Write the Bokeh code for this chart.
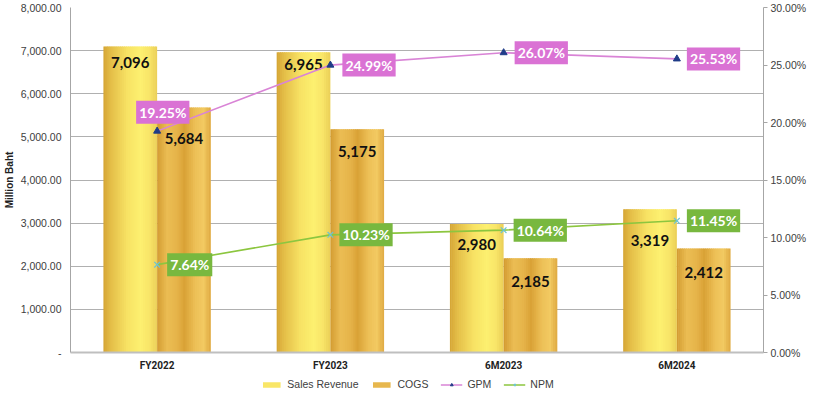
from bokeh.plotting import figure
from bokeh.layouts import column
from bokeh.models import (FactorRange, Range1d, LinearAxis, FixedTicker, NumeralTickFormatter,
                          PrintfTickFormatter, ColumnDataSource, Legend, LegendItem)
from bokeh.transform import dodge
from bokeh.core.properties import value
from bokeh.embed import file_html
from bokeh.resources import INLINE

# ---------------- data ----------------
periods = ["FY2022", "FY2023", "6M2023", "6M2024"]
sales_revenue = [7096, 6965, 2980, 3319]
cogs = [5684, 5175, 2185, 2412]
gpm = [19.25, 24.99, 26.07, 25.53]
npm = [7.64, 10.23, 10.64, 11.45]
left_ticks = [0, 1000, 2000, 3000, 4000, 5000, 6000, 7000, 8000]
right_ticks = [0, 5, 10, 15, 20, 25, 30]
series_names = ["Sales Revenue", "COGS", "GPM", "NPM"]

# ---------------- label layout (screen px) ----------------
sales_label_dy = [16, 12, 21, 31]
cogs_label_dy = [31, 22, 23, 24]
gpm_label_dx = [-21, 12, 11, 10]
gpm_label_dy = [-19, 0, 0, 0]
npm_label_dx = [10, 9, 10, 10]

# ---------------- styles ----------------
sales_stops = [(0.0, "#D4A434"), (0.15, "#E4BE48"), (0.45, "#F7E264"),
               (0.7, "#FDF070"), (0.88, "#F8E468"), (1.0, "#EACE56")]
cogs_stops = [(0.0, "#D29A30"), (0.2, "#EBBD54"), (0.38, "#E6B44A"), (0.52, "#D9A236"),
              (0.72, "#EDC057"), (0.88, "#F2CA62"), (1.0, "#DEA840")]
GPM_COLOR, GPM_MARK = "#D984D6", "#1F3C88"
NPM_COLOR, NPM_MARK = "#8CC63F", "#6CC4D4"
N_STRIPS = 28
bar_w = 0.31
sales_off = -0.155
cogs_off = 0.155
NAN = float("nan")


def grad(stops, n):
    def hx(c):
        return [int(c[i:i + 2], 16) for i in (1, 3, 5)]
    out = []
    for k in range(n):
        t = (k + 0.5) / n
        for (p0, c0), (p1, c1) in zip(stops[:-1], stops[1:]):
            if p0 <= t <= p1:
                f = (t - p0) / (p1 - p0)
                a, b = hx(c0), hx(c1)
                out.append("#%02X%02X%02X" % tuple(round(a[i] + (b[i] - a[i]) * f) for i in range(3)))
                break
    return out


p = figure(frame_width=693, frame_height=345, output_backend="svg", toolbar_location=None,
           x_range=FactorRange(*periods, range_padding=0), y_range=Range1d(0, 8000),
           min_border_top=7, min_border_bottom=0, min_border_left=0, min_border_right=0)
p.extra_y_ranges = {"pct": Range1d(0, 30)}
p.outline_line_color = None
p.background_fill_color = "white"
p.border_fill_color = "white"

src = ColumnDataSource(dict(period=periods, sales=sales_revenue, cogs=cogs, gpm=gpm, npm=npm,
                            sales_lbl=[f"{v:,}" for v in sales_revenue],
                            cogs_lbl=[f"{v:,}" for v in cogs],
                            gpm_lbl=[f"{v:.2f}%" for v in gpm],
                            npm_lbl=[f"{v:.2f}%" for v in npm],
                            sales_dy=sales_label_dy, cogs_dy=cogs_label_dy,
                            gpm_dx=gpm_label_dx, gpm_dy=gpm_label_dy, npm_dx=npm_label_dx))


def strips(field, stops, center_off):
    colors = grad(stops, N_STRIPS)
    w = bar_w / N_STRIPS
    for k, c in enumerate(colors):
        off = center_off - bar_w / 2 + (k + 0.5) * w
        p.vbar(x=dodge("period", off, range=p.x_range), top=field, bottom=0,
               width=w * 1.6 if 0 < k < N_STRIPS - 1 else w, source=src,
               fill_color=c, line_color=None)
    return colors


sales_cols = strips("sales", sales_stops, sales_off)
cogs_cols = strips("cogs", cogs_stops, cogs_off)

# bar value labels
for fld, off, lbl, dy in (("sales", sales_off, "sales_lbl", "sales_dy"),
                          ("cogs", cogs_off, "cogs_lbl", "cogs_dy")):
    p.text(x=dodge("period", off, range=p.x_range), y=fld, text=lbl, source=src,
           y_offset=dy, text_align="center", text_baseline="middle",
           text_font=value("Lato"), text_font_style="bold", text_font_size="15px",
           text_color="#111111")

# lines
p.line(x="period", y="gpm", source=src, y_range_name="pct", line_color=GPM_COLOR, line_width=1.6)
p.scatter(x="period", y="gpm", source=src, y_range_name="pct", marker="triangle",
          size=7, fill_color=GPM_MARK, line_color=GPM_MARK)
p.line(x="period", y="npm", source=src, y_range_name="pct", line_color=NPM_COLOR, line_width=1.6)
p.scatter(x="period", y="npm", source=src, y_range_name="pct", marker="x",
          size=8, line_color=NPM_MARK, line_width=1.2)

p.text(x="period", y="gpm", text="gpm_lbl", source=src, y_range_name="pct",
       x_offset="gpm_dx", y_offset="gpm_dy", text_align="left", text_baseline="middle",
       text_font=value("Lato"), text_font_style="bold", text_font_size="14px", text_color="white",
       background_fill_color="#DA72D4", padding=3)
p.text(x="period", y="npm", text="npm_lbl", source=src, y_range_name="pct",
       x_offset="npm_dx", text_align="left", text_baseline="middle",
       text_font=value("Lato"), text_font_style="bold", text_font_size="14px", text_color="white",
       background_fill_color="#78B83F", padding=3)

# axes
ya = p.yaxis[0]
ya.ticker = FixedTicker(ticks=left_ticks)
ya.formatter = NumeralTickFormatter(format="0,0.00")
ya.major_label_overrides = {0: "-"}
ya.axis_label = "Million Baht"
ya.axis_label_text_font = "Liberation Sans"
ya.axis_label_text_font_style = "bold"
ya.axis_label_text_font_size = "10px"
ya.axis_label_text_color = "#222222"
ya.axis_label_standoff = 3
ya.major_label_text_font = "Liberation Sans"
ya.major_label_text_font_size = "10.5px"
ya.major_label_text_color = "#404040"
ya.major_label_standoff = 9
ya.major_tick_out = 0
ya.major_tick_in = 0
ya.minor_tick_out = 0
ya.minor_tick_in = 0
ya.axis_line_color = "#A6A6A6"

ra = LinearAxis(y_range_name="pct", ticker=FixedTicker(ticks=right_ticks),
                formatter=PrintfTickFormatter(format="%.2f%%"))
ra.major_label_text_font = "Liberation Sans"
ra.major_label_text_font_size = "10.5px"
ra.major_label_text_color = "#404040"
ra.major_label_standoff = 3
ra.major_tick_out = 4
ra.major_tick_in = 0
ra.minor_tick_out = 0
ra.minor_tick_in = 0
ra.axis_line_color = "#A6A6A6"
ra.major_tick_line_color = "#A6A6A6"
p.add_layout(ra, "right")

xa = p.xaxis[0]
xa.major_label_text_font = "Roboto"
xa.major_label_text_font_style = "bold"
xa.major_label_text_font_size = "10px"
xa.major_label_text_color = "#222222"
xa.major_label_standoff = 7
xa.major_tick_out = 0
xa.major_tick_in = 0
xa.axis_line_color = "#BFBFBF"
xa.axis_line_width = 2

p.xgrid.visible = False
p.ygrid.grid_line_color = "#B0B0B0"
p.ygrid.grid_line_width = 1

# ---------------- legend strip (separate small figure) ----------------
lf = figure(width=790, height=22, output_backend="svg", toolbar_location=None,
            x_range=Range1d(0, 1), y_range=Range1d(0, 1), min_border=0)
lf.axis.visible = False
lf.grid.visible = False
lf.outline_line_color = None
# stand-in glyphs with NaN positions: nothing drawn, only their legend swatches
r_sales = lf.vbar(x=[NAN], top=[NAN], width=0.1, fill_color=sales_cols[N_STRIPS // 2], line_color=None)
r_cogs = lf.vbar(x=[NAN], top=[NAN], width=0.1, fill_color=cogs_cols[N_STRIPS // 2 + 4], line_color=None)
r_gl = lf.line(x=[NAN, NAN], y=[NAN, NAN], line_color=GPM_COLOR, line_width=1.6)
r_gm = lf.scatter(x=[NAN], y=[NAN], marker="triangle", size=7, fill_color=GPM_MARK, line_color=GPM_MARK)
r_nl = lf.line(x=[NAN, NAN], y=[NAN, NAN], line_color=NPM_COLOR, line_width=1.6)
r_nm = lf.scatter(x=[NAN], y=[NAN], marker="x", size=8, line_color=NPM_MARK, line_width=1.2)

legend = Legend(items=[
    LegendItem(label=series_names[0], renderers=[r_sales]),
    LegendItem(label=series_names[1], renderers=[r_cogs]),
    LegendItem(label=series_names[2], renderers=[r_gl, r_gm]),
    LegendItem(label=series_names[3], renderers=[r_nl, r_nm]),
], orientation="horizontal", location="center")
legend.padding = 0
legend.margin = 0
legend.spacing = 12
legend.glyph_width = 22
legend.glyph_height = 7
legend.label_standoff = 5
legend.label_height = 14
legend.label_text_font = "Liberation Sans"
legend.label_text_font_size = "10.5px"
legend.label_text_color = "#404040"
legend.border_line_color = None
legend.background_fill_alpha = 0
lf.add_layout(legend)

layout = column(p, lf, spacing=0)
open("out.html", "w").write(file_html(layout, INLINE))
